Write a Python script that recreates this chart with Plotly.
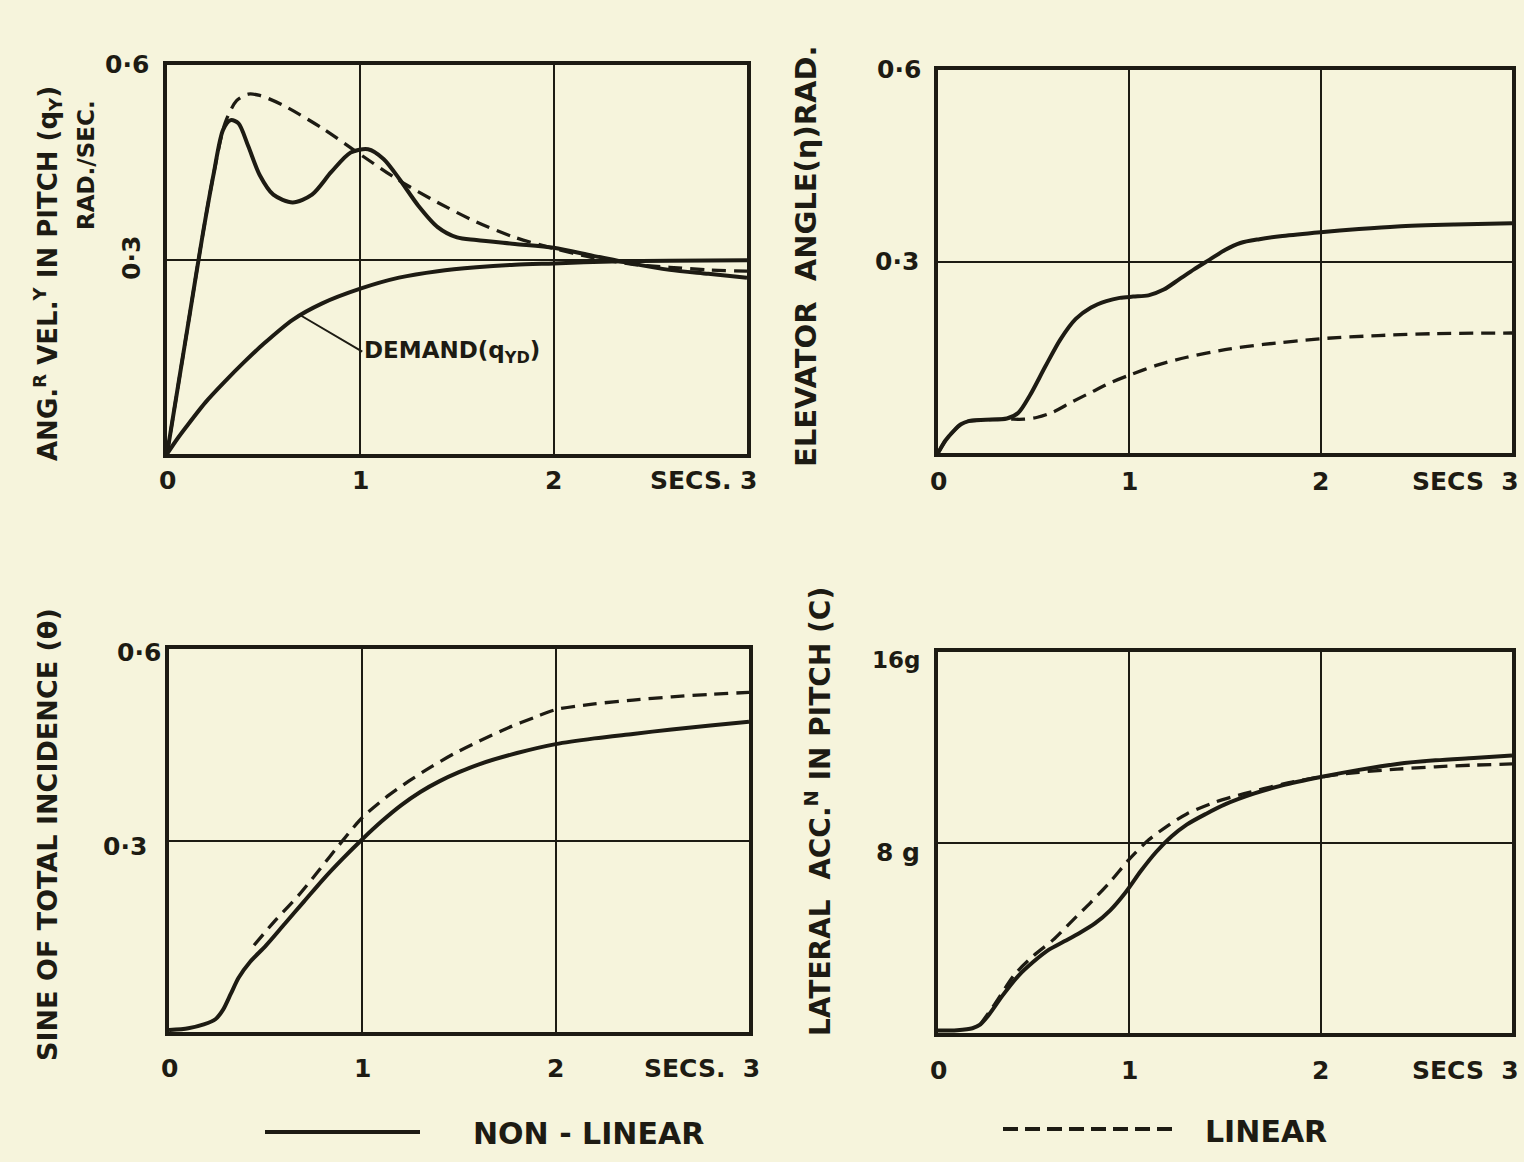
import plotly.graph_objects as go

# ---------------- data ----------------
# Top-left: angular velocity in pitch (rad/s)
tl_nl_x = [0, 0.06, 0.12, 0.18, 0.24, 0.29, 0.33, 0.37, 0.42, 0.48, 0.55, 0.65, 0.75, 0.85, 0.95, 1.04,
           1.12, 1.2, 1.3, 1.4, 1.5, 1.6, 1.8, 2.0, 2.2, 2.4, 2.6, 2.8, 3.0]
tl_nl_y = [0, 0.11, 0.22, 0.33, 0.43, 0.50, 0.515, 0.51, 0.475, 0.43, 0.40, 0.388, 0.40, 0.435, 0.465, 0.47,
           0.455, 0.425, 0.383, 0.350, 0.334, 0.330, 0.324, 0.318, 0.306, 0.294, 0.284, 0.278, 0.272]
tl_lin_x = [0, 0.06, 0.12, 0.18, 0.24, 0.30, 0.36, 0.42, 0.48, 0.6, 0.8, 1.0, 1.2, 1.4, 1.6, 1.8, 2.0,
            2.2, 2.4, 2.6, 2.8, 3.0]
tl_lin_y = [0, 0.11, 0.22, 0.33, 0.43, 0.51, 0.545, 0.555, 0.553, 0.538, 0.503, 0.462, 0.422, 0.388,
            0.358, 0.334, 0.317, 0.303, 0.293, 0.288, 0.284, 0.282]
tl_dem_x = [0, 0.05, 0.1, 0.2, 0.3, 0.4, 0.5, 0.65, 0.8, 1.0, 1.2, 1.4, 1.6, 1.8, 2.0, 2.3, 2.6, 3.0]
tl_dem_y = [0, 0.022, 0.042, 0.080, 0.112, 0.142, 0.170, 0.207, 0.232, 0.255, 0.272, 0.282, 0.288,
            0.292, 0.294, 0.297, 0.298, 0.299]

# Top-right: elevator angle (rad)
tr_nl_x = [0, 0.04, 0.08, 0.12, 0.16, 0.25, 0.36, 0.42, 0.48, 0.56, 0.64, 0.72, 0.80, 0.88, 0.95, 1.02,
           1.10, 1.18, 1.26, 1.34, 1.42, 1.50, 1.58, 1.68, 1.8, 2.0, 2.2, 2.4, 2.7, 3.0]
tr_nl_y = [0, 0.02, 0.034, 0.045, 0.05, 0.052, 0.054, 0.063, 0.09, 0.135, 0.178, 0.210, 0.228, 0.238,
           0.243, 0.245, 0.247, 0.256, 0.272, 0.288, 0.303, 0.318, 0.329, 0.335, 0.340, 0.346, 0.351,
           0.355, 0.358, 0.360]
tr_lin_x = [0, 0.04, 0.08, 0.12, 0.16, 0.25, 0.36, 0.45, 0.52, 0.6, 0.7, 0.8, 0.9, 1.0, 1.15, 1.3, 1.5,
            1.7, 2.0, 2.3, 2.6, 3.0]
tr_lin_y = [0, 0.02, 0.034, 0.045, 0.05, 0.052, 0.053, 0.053, 0.056, 0.064, 0.080, 0.095, 0.110, 0.122,
            0.138, 0.150, 0.162, 0.170, 0.179, 0.184, 0.187, 0.188]

# Bottom-left: sine of total incidence
bl_nl_x = [0, 0.1, 0.18, 0.24, 0.28, 0.32, 0.36, 0.42, 0.5, 0.6, 0.7, 0.8, 0.9, 1.0, 1.1, 1.2, 1.3, 1.4,
           1.5, 1.6, 1.8, 2.0, 2.2, 2.4, 2.6, 2.8, 3.0]
bl_nl_y = [0.003, 0.006, 0.012, 0.02, 0.035, 0.06, 0.085, 0.11, 0.135, 0.17, 0.205, 0.24, 0.272, 0.302,
           0.33, 0.355, 0.376, 0.393, 0.407, 0.419, 0.437, 0.451, 0.46, 0.467, 0.474, 0.48, 0.486]
bl_lin_x = [0.44, 0.55, 0.67, 0.78, 0.88, 1.0, 1.12, 1.24, 1.36, 1.48, 1.6, 1.75, 1.9, 2.0, 2.2, 2.4,
            2.6, 2.8, 3.0]
bl_lin_y = [0.136, 0.175, 0.214, 0.255, 0.293, 0.336, 0.367, 0.393, 0.416, 0.437, 0.455, 0.476, 0.494,
            0.505, 0.514, 0.52, 0.525, 0.529, 0.532]

# Bottom-right: lateral acceleration in pitch (g)
br_nl_x = [0, 0.1, 0.18, 0.22, 0.26, 0.34, 0.42, 0.5, 0.58, 0.66, 0.74, 0.82, 0.9, 0.98, 1.06, 1.14,
           1.22, 1.3, 1.4, 1.5, 1.65, 1.8, 2.0, 2.2, 2.4, 2.6, 2.8, 3.0]
br_nl_y = [0.1, 0.12, 0.2, 0.35, 0.7, 1.6, 2.4, 3.0, 3.5, 3.85, 4.2, 4.6, 5.15, 5.9, 6.8, 7.6, 8.25,
           8.75, 9.2, 9.6, 10.05, 10.4, 10.75, 11.05, 11.3, 11.45, 11.55, 11.65]
br_lin_x = [0.22, 0.3, 0.4, 0.5, 0.6, 0.7, 0.8, 0.9, 1.0, 1.1, 1.2, 1.3, 1.45, 1.6, 1.8, 2.0, 2.2, 2.4,
            2.6, 2.8, 3.0]
br_lin_y = [0.35, 1.25, 2.45, 3.25, 3.9, 4.7, 5.5, 6.35, 7.3, 8.1, 8.7, 9.2, 9.7, 10.05, 10.45, 10.75,
            10.95, 11.08, 11.18, 11.25, 11.3]

x_ticks = [0, 1, 2]
x_tick_text = ["0", "1", "2"]
y_ticks_rad = [0.3, 0.6]
y_ticks_g = [8, 16]

# ---------------- style ----------------
W, H = 1524, 1162
BG = "#f6f4dc"
INK = "#1d1b13"
FONT = "DejaVu Sans"
DASH = "14px,8px"


def px(xp):
    return xp / W


def py(yp):
    return 1 - yp / H


fig = go.Figure()

panels = {
    # name: (xaxis, yaxis, x px range, y px range (top, bottom), y range)
    "tl": ("x", "y", (167, 747), (65, 454), [0, 0.6]),
    "tr": ("x2", "y2", (938, 1512), (70, 453), [0, 0.6]),
    "bl": ("x3", "y3", (169, 749), (649, 1032), [0, 0.6]),
    "br": ("x4", "y4", (938, 1512), (652, 1033), [0, 16]),
}

series = {
    "tl": [(tl_nl_x, tl_nl_y, "solid"), (tl_lin_x, tl_lin_y, "dash"), (tl_dem_x, tl_dem_y, "solid")],
    "tr": [(tr_nl_x, tr_nl_y, "solid"), (tr_lin_x, tr_lin_y, "dash")],
    "bl": [(bl_nl_x, bl_nl_y, "solid"), (bl_lin_x, bl_lin_y, "dash")],
    "br": [(br_nl_x, br_nl_y, "solid"), (br_lin_x, br_lin_y, "dash")],
}

layout_axes = {}
for key, (xa, ya, (x0, x1), (ytop, ybot), yr) in panels.items():
    for xs, ys, style in series[key]:
        fig.add_trace(go.Scatter(
            x=xs, y=ys, mode="lines", xaxis=xa, yaxis=ya, showlegend=False,
            line=dict(color=INK, width=4.0 if style == "solid" else 3.3,
                      dash="solid" if style == "solid" else DASH,
                      shape="spline", smoothing=0.8),
            hoverinfo="skip"))
    xname = "xaxis" if xa == "x" else "xaxis" + xa[1:]
    yname = "yaxis" if ya == "y" else "yaxis" + ya[1:]
    yt = y_ticks_g if key == "br" else y_ticks_rad
    layout_axes[xname] = dict(
        domain=[px(x0), px(x1)], range=[0, 3], anchor=ya,
        tickvals=[1, 2], showticklabels=False, ticks="",
        showgrid=True, gridcolor=INK, gridwidth=2, zeroline=False,
        showline=True, linecolor=INK, linewidth=4, mirror=True)
    layout_axes[yname] = dict(
        domain=[py(ybot), py(ytop)], range=yr, anchor=xa,
        tickvals=[yt[0]], showticklabels=False, ticks="",
        showgrid=True, gridcolor=INK, gridwidth=2, zeroline=False,
        showline=True, linecolor=INK, linewidth=4, mirror=True)

annotations = []


def txt(text, x, y, size=24, angle=0, xanchor="center", yanchor="middle", xref="paper", yref="paper",
        xshift=0, yshift=0):
    annotations.append(dict(text=text, x=x, y=y, xref=xref, yref=yref, showarrow=False,
                            textangle=angle, xanchor=xanchor, yanchor=yanchor,
                            xshift=xshift, yshift=yshift,
                            font=dict(family=FONT, size=size, color=INK, weight="bold")))


# x tick labels
x_label_shift = {"tl": -26, "tr": -28, "bl": -36, "br": -37}
secs_text = {"tl": "SECS. 3", "tr": "SECS  3", "bl": "SECS.  3", "br": "SECS  3"}
secs_shift = {"tl": 13, "tr": 9, "bl": 13, "br": 9}
for key, (xa, ya, _, _, yr) in panels.items():
    for v, t in zip(x_ticks, x_tick_text):
        txt(t, v, yr[0], size=25, xref=xa, yref=ya, yshift=x_label_shift[key])
    txt(secs_text[key], 3, yr[0], size=25, xanchor="right", xref=xa, yref=ya,
        xshift=secs_shift[key], yshift=x_label_shift[key])

# y tick labels
txt("0·6", 0, 0.6, size=25, xanchor="right", xref="x", yref="y", xshift=-16)
txt("0·3", px(131), py(258), size=25, angle=-90)
txt("0·6", 0, 0.6, size=25, xanchor="right", xref="x2", yref="y2", xshift=-15)
txt("0·3", 0, 0.3, size=25, xanchor="right", xref="x2", yref="y2", xshift=-17)
txt("0·6", 0, 0.6, size=25, xanchor="right", xref="x3", yref="y3", xshift=-6, yshift=-3)
txt("0·3", 0, 0.3, size=25, xanchor="right", xref="x3", yref="y3", xshift=-20, yshift=-6)
txt("16g", 0, 16, size=23, xanchor="right", xref="x4", yref="y4", xshift=-16, yshift=-8)
txt("8 g", 0, 8, size=25, xanchor="right", xref="x4", yref="y4", xshift=-16, yshift=-10)

# axis titles
txt("ANG.<sup>R</sup> VEL.<sup>Y</sup> IN PITCH (q<sub>Y</sub>)", px(48), py(274), size=26, angle=-90)
txt("RAD./SEC.", px(86), py(165), size=23, angle=-90)
txt("ELEVATOR  ANGLE(η)RAD.", px(806), py(256), size=29, angle=-90)
txt("SINE OF TOTAL INCIDENCE (θ)", px(47), py(835), size=27, angle=-90)
txt("LATERAL  ACC.<sup>N</sup> IN PITCH (C)", px(818), py(812), size=28, angle=-90)

# demand label with leader line
annotations.append(dict(
    text="DEMAND(q<sub>YD</sub>)", x=0.69, y=0.214, xref="x", yref="y",
    ax=1.01, ay=0.158, axref="x", ayref="y", showarrow=True, arrowhead=0,
    arrowwidth=2, arrowcolor=INK, xanchor="left", yanchor="middle", standoff=0,
    font=dict(family=FONT, size=23, color=INK, weight="bold")))

# legend
txt("NON - LINEAR", px(588), py(1133), size=30)
txt("LINEAR", px(1266), py(1131), size=30)
shapes = [
    dict(type="line", xref="paper", yref="paper", x0=px(265), x1=px(420), y0=py(1132), y1=py(1132),
         line=dict(color=INK, width=4.0)),
    dict(type="line", xref="paper", yref="paper", x0=px(1003), x1=px(1177), y0=py(1129), y1=py(1129),
         line=dict(color=INK, width=4.0, dash="15px,7px")),
]

fig.update_layout(
    width=W, height=H, margin=dict(l=0, r=0, t=0, b=0),
    paper_bgcolor=BG, plot_bgcolor=BG,
    annotations=annotations, shapes=shapes, showlegend=False,
    **layout_axes)

fig.write_html(
    "out.html",
    config={"displayModeBar": False},
    post_script="document.body.style.margin='0';document.body.style.overflow='hidden';"
                "document.body.style.background='" + BG + "';")
